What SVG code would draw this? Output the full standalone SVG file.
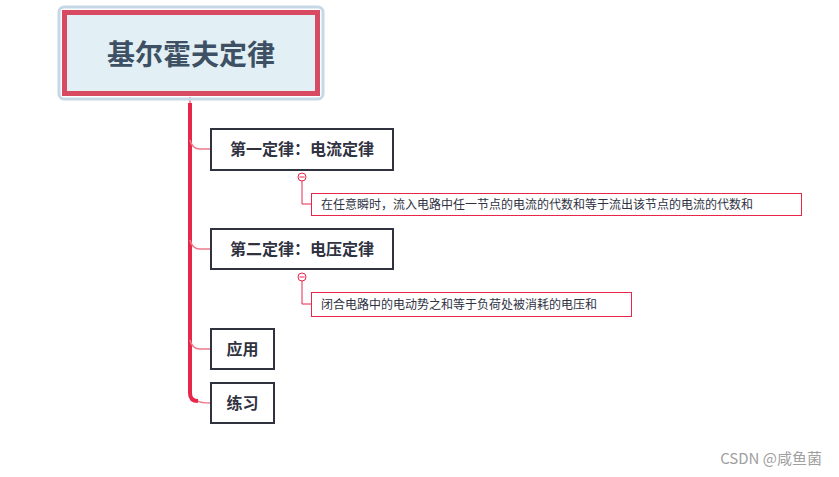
<svg xmlns="http://www.w3.org/2000/svg" width="839" height="477" viewBox="0 0 839 477">
<style>
.n{fill:#fff;stroke:#30323f;stroke-width:2}
.t{font-family:"Noto Sans CJK SC",sans-serif;font-weight:bold;font-size:16px;fill:#30323f}
.note{fill:#fff;stroke:#e8264a;stroke-width:1}
.nt{font-family:"Noto Sans CJK SC",sans-serif;font-size:12px;fill:#30323f}
.br{fill:none;stroke:#f07a8c;stroke-width:1.5}
.tr{fill:none;stroke:#e8264a;stroke-width:4}
.nl{fill:none;stroke:#e8264a;stroke-width:1}
</style>
<rect width="839" height="477" fill="#fff"/>
<g id="connectors">
<line x1="190" y1="97" x2="190" y2="110" stroke="#f07a8c" stroke-width="1.5"/>
<path class="tr" d="M190 103 V393 Q190 401 198 401"/>
<path class="br" d="M190 140 Q192 149 200 149 H211"/>
<path class="br" d="M190 240 Q192 249 200 249 H211"/>
<path class="br" d="M190 340 Q192 349 200 349 H211"/>
<path class="br" d="M198 401 Q200 403 211 403"/>
<path class="nl" d="M302 181 V204 H311"/>
<path class="nl" d="M302 281 V304 H311"/>
</g>
<g id="root">
<rect x="59" y="7" width="264" height="92" rx="5" fill="none" stroke="#c6d8e6" stroke-width="3"/>
<rect x="64.5" y="12.5" width="253" height="81" fill="#e2eff4" stroke="#d84a62" stroke-width="5"/>
<text x="191" y="65" text-anchor="middle" font-family="Noto Sans CJK SC,sans-serif" font-weight="bold" font-size="28" fill="#3e5063">基尔霍夫定律</text>
</g>
<g id="n1"><rect class="n" x="211" y="129" width="182" height="41"/><text class="t" x="302" y="155" text-anchor="middle">第一定律：电流定律</text></g>
<g id="note1"><circle cx="302" cy="177" r="4" fill="#fff" stroke="#e8264a"/><line x1="299.5" y1="177" x2="304.5" y2="177" stroke="#e8264a"/>
<rect class="note" x="311.5" y="193.5" width="490" height="22"/><text class="nt" x="321" y="209">在任意瞬时，流入电路中任一节点的电流的代数和等于流出该节点的电流的代数和</text></g>
<g id="n2"><rect class="n" x="211" y="229" width="182" height="40"/><text class="t" x="302" y="255" text-anchor="middle">第二定律：电压定律</text></g>
<g id="note2"><circle cx="302" cy="277" r="4" fill="#fff" stroke="#e8264a"/><line x1="299.5" y1="277" x2="304.5" y2="277" stroke="#e8264a"/>
<rect class="note" x="311.5" y="292.5" width="320" height="24"/><text class="nt" x="321" y="309">闭合电路中的电动势之和等于负荷处被消耗的电压和</text></g>
<g id="n3"><rect class="n" x="211" y="329" width="63" height="40"/><text class="t" x="242.5" y="355" text-anchor="middle">应用</text></g>
<g id="n4"><rect class="n" x="211" y="383" width="63" height="40"/><text class="t" x="242.5" y="409" text-anchor="middle">练习</text></g>
<text x="822" y="464" text-anchor="end" font-family="Noto Sans CJK SC,sans-serif" font-size="15" fill="#a0a0a0">CSDN @咸鱼菌</text>
</svg>
